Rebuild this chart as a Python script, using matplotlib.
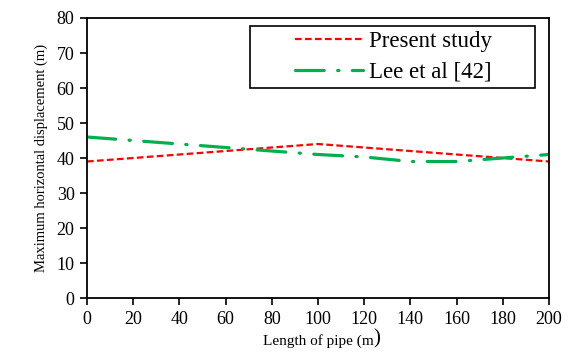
import matplotlib
matplotlib.use('Agg')
import matplotlib.pyplot as plt
from matplotlib.patches import Rectangle

# pipe length (m)
length = [0, 20, 40, 60, 80, 100, 120, 140, 160, 180, 200]
# maximum horizontal displacement (m)
present = [39, 40, 41, 42, 43, 44, 43, 42, 41, 40, 39]
lee = [46, 45, 44, 43, 42, 41, 40.3, 39, 39, 40, 41]

xticks = list(range(0, 201, 20))
yticks = list(range(0, 81, 10))

plt.rcParams['font.family'] = ['Liberation Serif', 'DejaVu Serif']

fig = plt.figure(figsize=(5.74, 3.6), dpi=100)
ax = fig.add_axes([0.1516, 0.1722, 0.8048, 0.7778])

ax.plot(length, present, color='#ff0000', lw=1.6,
        linestyle=(0, (3.0, 1.5)), label='Present study')
ax.plot(length, lee, color='#00b050', lw=2.3,
        linestyle=(0, (9.0, 4.2, 0.4, 4.2)), dash_capstyle='round',
        label='Lee et al [42]')

ax.set_xlim(0, 200)
ax.set_ylim(0, 80)
ax.set_xticks(xticks)
ax.set_yticks(yticks)
ax.tick_params(direction='out', length=5, width=1.2, labelsize=13,
               top=False, right=False, pad=4)
for s in ax.spines.values():
    s.set_linewidth(1.3)
    s.set_color('black')

ax.set_ylabel('Maximum horizontal displacement (m)', fontsize=10.5, labelpad=6)
xl = ax.set_xlabel('Length of pipe (m', fontsize=11, labelpad=5)
ax.annotate(')', xy=(1, 0), xycoords=xl, ha='left', va='bottom', fontsize=15)

# legend entries centred inside a plain black box
leg = ax.legend(loc='center', bbox_to_anchor=(0.664, 0.861), fontsize=16.5,
                frameon=False, handlelength=2.95, handletextpad=0.3,
                labelspacing=0.4, borderpad=0, borderaxespad=0)
ax.add_patch(Rectangle((0.353, 0.75), 0.617, 0.221, transform=ax.transAxes,
                       fill=False, edgecolor='black', lw=1.2, zorder=5))

fig.savefig('out.png', dpi=100)
